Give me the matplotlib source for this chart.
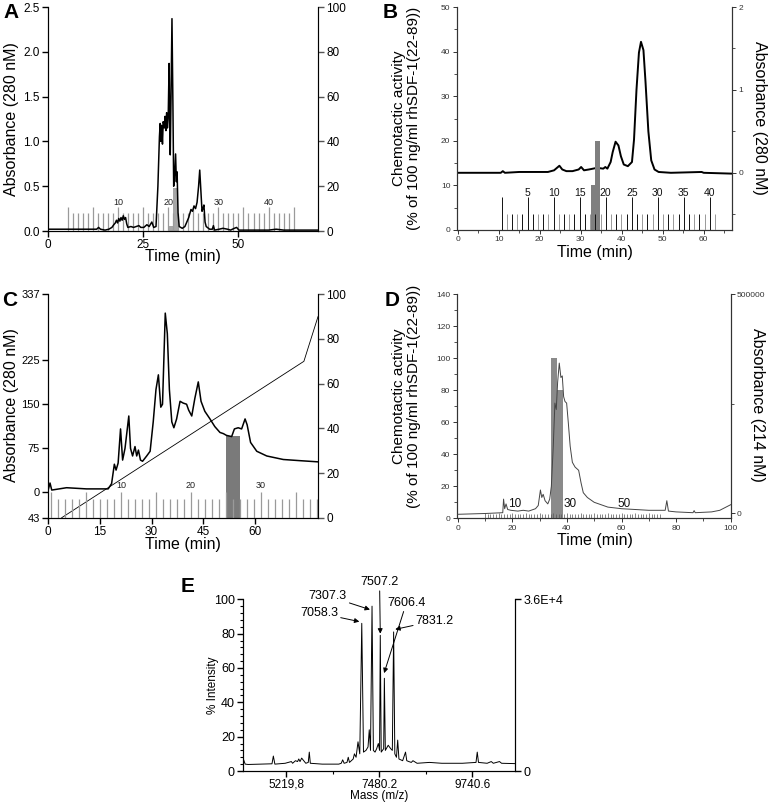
import numpy as np
import matplotlib
matplotlib.use('Agg')
import matplotlib.pyplot as plt
from matplotlib.ticker import MultipleLocator, FixedLocator

plt.rcParams['font.family'] = ['Liberation Sans', 'DejaVu Sans']

W, H = 768, 802

# ---------------- panel A data ----------------
a_time = [0, 12.8, 13.3, 13.8, 15, 16, 16.8, 17.3, 17.7, 18.0, 18.3, 18.6, 18.9, 19.2, 19.5, 19.8,
          20.1, 20.4, 20.7, 21.0, 21.8, 22.5, 23.2, 23.9, 24.4, 25.2, 26.0, 26.6, 27.3, 27.8, 28.4,
          28.9, 29.3, 29.5, 29.7, 29.9, 30.1, 30.3, 30.6, 30.8, 31.0, 31.2, 31.4, 31.6, 31.85, 32.0,
          32.15, 32.35, 32.6, 32.85, 33.05, 33.3, 33.55, 33.75, 33.95, 34.2, 34.5, 35.3, 36.0, 36.5,
          37.0, 37.6, 38.0, 38.4, 38.8, 39.2, 39.6, 39.9, 40.2, 40.5, 40.8, 41.0, 41.3, 41.6, 42.5,
          43.2, 43.5, 43.8, 45, 46, 47.2, 48, 49, 49.6, 50.2, 52, 58, 60, 62, 71]
a_abs = [0.02, 0.02, 0.04, 0.02, 0.01, 0.02, 0.04, 0.07, 0.09, 0.12, 0.09, 0.14, 0.11, 0.15, 0.12, 0.17,
         0.13, 0.15, 0.08, 0.04, 0.05, 0.04, 0.05, 0.06, 0.04, 0.04, 0.07, 0.05, 0.10, 0.04, 0.05,
         0.5, 1.05, 1.2, 1.0, 1.18, 0.97, 1.22, 1.15, 1.28, 1.12, 1.32, 1.15, 1.25, 1.87, 1.3,
         0.85, 1.5, 2.37, 1.4, 0.5, 0.62, 0.86, 0.55, 0.66, 0.2, 0.05, 0.03, 0.05, 0.1,
         0.15, 0.24, 0.22, 0.28, 0.25, 0.32, 0.5, 0.68, 0.45, 0.22, 0.26, 0.29, 0.1, 0.05, 0.02,
         0.02, 0.06, 0.01, 0.02, 0.03, 0.02, 0.01, 0.03, 0.04, 0.01, 0.01, 0.01, 0.02, 0.01, 0.01]
a_bar_start = [31.7, 32.8]
a_bar_width = [1.1, 1.5]
a_activity = [2.4, 19]
a_frac_start, a_frac_step, a_frac_n = 5.2, 1.32, 46
a_frac_labels = [10, 20, 30, 40]

# ---------------- panel B data ----------------
b_time = [0, 10.5, 11, 11.5, 15, 20, 22, 23.5, 24.8, 25.5, 26.5, 28, 29.5, 30.1, 30.8, 32, 33, 34,
          35.5, 36, 36.5, 37.3, 37.8, 38.5, 39.2, 39.8, 40.5, 41.5, 42.5, 43, 43.6, 44.2, 44.7,
          45.3, 45.8, 46.5, 47.2, 48, 49, 52, 59.5, 60, 66.9]
b_abs = [0, 0, 0.02, 0, 0.01, 0.01, 0.01, 0.03, 0.085, 0.04, 0.02, 0.02, 0.04, 0.07, 0.03, 0.04,
         0.05, 0.06, 0.05, 0.07, 0.05, 0.13, 0.25, 0.375, 0.33, 0.2, 0.1, 0.08, 0.13, 0.4, 1.0,
         1.45, 1.58, 1.48, 1.1, 0.5, 0.15, 0.04, 0.01, 0.0, 0.01, 0.0, -0.01]
b_bar_start = [32.4, 33.6]
b_bar_width = [1.2, 1.2]
b_activity = [10, 20]
b_frac_start, b_frac_step, b_frac_n = 10.7, 1.27, 42
b_frac_labels = [5, 10, 15, 20, 25, 30, 35, 40]

# ---------------- panel C data ----------------
c_time = [0, 0.5, 1, 5.3, 8.2, 11.1, 17.4, 18.4, 19.2, 19.7, 20.3, 21.0, 21.6, 22.3, 23.4, 23.9,
          24.5, 25.2, 25.7, 26.2, 26.8, 27.4, 28.6, 29.6, 30.5, 31.3, 32.0, 32.7, 33.2, 34.0, 34.6,
          35.2, 35.9, 36.5, 37.3, 38.3, 39.2, 40.2, 40.8, 41.7, 42.6, 43.6, 44.4, 45.5, 47.0, 48.4,
          49.9, 50.9, 51.8, 53.3, 54.1, 55.2, 56.2, 57.2, 57.8, 58.8, 60.6, 63.5, 68.3, 73.2, 78.4]
c_abs = [5, 16, 4, 8, 7, 6, 6, 15, 48, 38, 50, 108, 55, 75, 130, 75,
         62, 78, 62, 72, 55, 53, 62, 70, 120, 175, 200, 145, 150, 305, 270,
         175, 120, 110, 125, 155, 152, 150, 140, 130, 160, 188, 155, 138, 125, 112,
         102, 100, 97, 95, 108, 110, 108, 125, 115, 85, 70, 62, 56, 54, 52]
c_grad_time = [3.9, 74.3, 78.4]
c_grad_pct = [0, 70, 90]
c_bar_start = [51.6]
c_bar_width = [4.1]
c_activity = [36.5]
c_frac_start, c_frac_step, c_frac_n = 0.9, 2.03, 39
c_frac_labels = [10, 20, 30]

# ---------------- panel D data ----------------
d_time = [0, 10, 16.5, 16.8, 17.2, 17.7, 18.3, 19.5, 22, 24, 26, 28.5, 29.5, 30.3, 30.8, 31.3, 32,
          33, 33.7, 34.3, 35, 35.6, 36.1, 36.6, 37.2, 37.8, 38.3, 38.8, 39.3, 39.9, 40.5, 41.2, 42,
          43, 44.3, 45.2, 46, 47.5, 50, 55, 60, 70, 76, 76.6, 77.2, 80, 86.2, 86.6, 87, 93, 96, 100]
d_abs = [2.5, 3, 3.5, 12, 6, 9, 5.5, 5, 4.5, 5, 4.5, 6, 8, 17.7, 13, 15, 11,
         9, 12, 20, 45, 72, 68, 85, 97, 88, 89, 76, 73, 72, 60, 45, 35,
         32, 30, 22, 16, 13, 10, 7, 6, 5, 5, 11, 4.5, 4, 3.5, 4.8, 3.5, 4, 5, 8.5]
d_bar_start = [34.3, 36.5]
d_bar_width = [2.2, 2.0]
d_activity = [100, 80]
d_frac_start, d_frac_step, d_frac_n = 10.0, 1.0, 65
d_frac_labels = ['10', '30', '50']
d_frac_label_time = [18.6, 38.6, 58.6]

# ---------------- panel E data ----------------
e_mass = [4184, 4230, 4300, 4600, 4880, 4913, 4950, 5200, 5350, 5380, 5450, 5500, 5530, 5560, 5600,
          5700, 5760, 5785, 5810, 6100, 6500, 6560, 6595, 6630, 6700, 6730, 6760, 6850, 6880, 6920,
          6967, 7010, 7058.3, 7100, 7160, 7210, 7240, 7270, 7307.3, 7340, 7380, 7420, 7460, 7490,
          7507.2, 7530, 7560, 7590, 7606.4, 7630, 7700, 7760, 7800, 7831.2, 7860, 7900, 7930, 7960,
          8050, 8120, 8150, 8200, 8260, 8300, 8400, 8700, 9000, 9500, 9830, 9860, 9890, 10100, 10200,
          10250, 10400, 10450, 10776]
e_int = [7, 4, 3.8, 4, 4.2, 8.7, 4, 4.5, 5.5, 4.5, 6, 5.5, 7, 5.5, 7.5,
         4.5, 5, 11, 4.5, 4, 4, 4.5, 6.5, 4.5, 5, 8, 5, 7, 10, 8,
         17, 10, 86, 11, 12, 14, 24, 12, 96, 12, 11, 13, 16, 12,
         79, 11, 12, 13, 54, 12, 15, 13, 12, 81, 10, 8, 18, 7,
         6, 11, 6, 5.5, 5, 6, 4.5, 5, 4.5, 4.5, 5, 11, 5, 4.5, 5.5,
         4.5, 5.5, 4.5, 4.3]


def add_ax(fig, l, t, r, b):
    return fig.add_axes([l / W, 1 - b / H, (r - l) / W, (b - t) / H])


def px(x, y):
    return x / W, 1 - y / H


fig = plt.figure(figsize=(W / 100, H / 100), dpi=100)

# =============== A ===============
axA = add_ax(fig, 48, 7, 318, 231)
axA2 = axA.twinx()
axA2.bar(a_bar_start, a_activity, width=a_bar_width, align='edge', color='#a6a6a6', zorder=1)
axA2.set_ylim(0, 100)
axA2.set_yticks([0, 20, 40, 60, 80, 100])
axA.set_zorder(axA2.get_zorder() + 1)
axA.patch.set_visible(False)
for i in range(a_frac_n):
    t = a_frac_start + a_frac_step * i
    h = 0.264 if i % 5 == 0 else 0.197
    axA.vlines(t, 0, h, color='#9a9a9a', lw=0.9, zorder=1)
for n in a_frac_labels:
    axA.text(a_frac_start + a_frac_step * n, 0.32, str(n), fontsize=6.5, ha='center', va='center',
             color='#222')
axA.plot(a_time, a_abs, color='k', lw=1.1, zorder=3)
axA.set_xlim(0, 71)
axA.set_ylim(0, 2.5)
axA.set_xticks([0, 25, 50])
axA.set_yticks([0, 0.5, 1.0, 1.5, 2.0, 2.5])
axA.set_yticklabels(['0.0', '0.5', '1.0', '1.5', '2.0', '2.5'])
for a in (axA, axA2):
    a.spines['top'].set_visible(False)
    a.tick_params(labelsize=8.5, length=4, width=1, pad=2)
axA2.spines['right'].set_color('#555')
axA2.tick_params(colors='#555', labelcolor='k')
fig.text(*px(12, 119), 'Absorbance (280 nM)', rotation=90, fontsize=11.5, ha='center', va='center')
fig.text(*px(183, 256), 'Time (min)', fontsize=11.5, ha='center', va='center')
fig.text(*px(3, 12), 'A', fontsize=15, fontweight='bold', ha='left', va='center')

# =============== B ===============
axB = add_ax(fig, 456.7, 7, 732, 230)
axB2 = axB.twinx()
axB2.plot(b_time, b_abs, color='k', lw=1.4)
axB2.set_ylim(-0.69, 2.0)
axB2.set_yticks([0, 1, 2])
axB2.yaxis.set_minor_locator(FixedLocator([-0.5, 0.5, 1.5]))
axB.set_zorder(axB2.get_zorder() + 1)
axB.patch.set_visible(False)
axB.bar(b_bar_start, b_activity, width=b_bar_width, align='edge', color='#7f7f7f', zorder=2)
for i in range(b_frac_n):
    t = b_frac_start + b_frac_step * i
    h = 7.4 if i % 5 == 0 else 3.6
    c = '#111' if (i % 5 == 0 or i % 2 == 0) else '#999'
    axB.vlines(t, 0, h, color=c, lw=0.7, zorder=3)
for n in b_frac_labels:
    axB.text(b_frac_start + b_frac_step * n, 8.4, str(n), fontsize=7.5, ha='center', va='center',
             color='#111')
axB.set_xlim(-0.25, 66.9)
axB.set_ylim(0, 50)
axB.set_xticks(range(0, 61, 10))
axB.xaxis.set_minor_locator(MultipleLocator(5))
axB.set_yticks(range(0, 51, 10))
axB.yaxis.set_minor_locator(MultipleLocator(5))
for a in (axB, axB2):
    a.spines['top'].set_visible(False)
    for s in a.spines.values():
        s.set_color('#333')
        s.set_linewidth(0.8)
    a.tick_params(labelsize=6, length=3, width=0.7, colors='#333', pad=1.5)
    a.tick_params(which='minor', length=2, width=0.6, colors='#333')
fig.text(*px(399, 118), 'Chemotactic activity', rotation=90, fontsize=11, ha='center', va='center')
fig.text(*px(414, 118), '(% of 100 ng/ml rhSDF-1(22-89))', rotation=90, fontsize=11,
         ha='center', va='center')
fig.text(*px(759, 118), 'Absorbance (280 nM)', rotation=270, fontsize=11.5, ha='center', va='center')
fig.text(*px(595, 253), 'Time (min)', fontsize=11.5, ha='center', va='center')
fig.text(*px(383, 12), 'B', fontsize=15, fontweight='bold', ha='left', va='center')

# =============== C ===============
axC = add_ax(fig, 48.3, 294.3, 318, 517.7)
axC2 = axC.twinx()
axC2.plot(c_grad_time, c_grad_pct, color='k', lw=0.6)
axC2.bar(c_bar_start, c_activity, width=c_bar_width, align='edge', color='#7a7a7a')
axC2.set_ylim(0, 100)
axC2.set_yticks([0, 20, 40, 60, 80, 100])
axC.set_zorder(axC2.get_zorder() + 1)
axC.patch.set_visible(False)
for i in range(c_frac_n):
    t = c_frac_start + c_frac_step * i
    top = 0 if i % 5 == 0 else -10.7
    axC.vlines(t, -43, top, color='#9a9a9a', lw=0.9, zorder=1)
for n in c_frac_labels:
    axC.text(c_frac_start + c_frac_step * n, 11, str(n), fontsize=6.5, ha='center', va='center',
             color='#222')
axC.plot(c_time, c_abs, color='k', lw=1.1, zorder=3)
axC.set_xlim(0, 78.4)
axC.set_ylim(-43, 337)
axC.set_xticks([0, 15, 30, 45, 60])
axC.set_yticks([-43, 0, 75, 150, 225, 337])
axC.set_yticklabels(['43', '0', '75', '150', '225', '337'])
for a in (axC, axC2):
    a.spines['top'].set_visible(False)
    a.tick_params(labelsize=8.5, length=4, width=1, pad=2)
axC.tick_params(axis='y', labelsize=8)
axC2.spines['right'].set_color('#555')
axC2.tick_params(colors='#555', labelcolor='k')
fig.text(*px(12, 405), 'Absorbance (280 nM)', rotation=90, fontsize=11.5, ha='center', va='center')
fig.text(*px(183, 545), 'Time (min)', fontsize=11.5, ha='center', va='center')
fig.text(*px(2, 300), 'C', fontsize=15, fontweight='bold', ha='left', va='center')

# =============== D ===============
axD = add_ax(fig, 456.7, 294.3, 730.7, 518.3)
axD2 = axD.twinx()
axD2.set_ylim(-11400, 500000)
axD2.set_yticks([0, 500000])
axD2.set_yticklabels(['0', '500000'])
axD2.yaxis.set_minor_locator(FixedLocator([250000]))
axD.set_zorder(axD2.get_zorder() + 1)
axD.patch.set_visible(False)
axD.bar(d_bar_start, d_activity, width=d_bar_width, align='edge', color='#8a8a8a', zorder=1)
for i in range(d_frac_n):
    t = d_frac_start + d_frac_step * i
    h = 3.6 if i % 5 == 0 else 2.6
    axD.vlines(t, 0, h, color='#555', lw=0.5, zorder=2)
for lab, t in zip(d_frac_labels, d_frac_label_time):
    axD.text(t, 9.2, lab, fontsize=8.5, ha='left', va='center', color='#111')
axD.plot(d_time, d_abs, color='#444', lw=0.7, zorder=3)
axD.set_xlim(-0.37, 100)
axD.set_ylim(0, 140)
axD.set_xticks(range(0, 101, 20))
axD.xaxis.set_minor_locator(MultipleLocator(10))
axD.set_yticks(range(0, 141, 20))
axD.yaxis.set_minor_locator(MultipleLocator(10))
for a in (axD, axD2):
    a.spines['top'].set_visible(False)
    for s in a.spines.values():
        s.set_color('#333')
        s.set_linewidth(0.8)
    a.tick_params(labelsize=6, length=3, width=0.7, colors='#333', pad=1.5)
    a.tick_params(which='minor', length=2, width=0.6, colors='#333')
fig.text(*px(399, 396), 'Chemotactic activity', rotation=90, fontsize=11, ha='center', va='center')
fig.text(*px(414, 396), '(% of 100 ng/ml rhSDF-1(22-89))', rotation=90, fontsize=11,
         ha='center', va='center')
fig.text(*px(757, 405), 'Absorbance (214 nM)', rotation=270, fontsize=11.5, ha='center', va='center')
fig.text(*px(595, 541), 'Time (min)', fontsize=11.5, ha='center', va='center')
fig.text(*px(385, 300), 'D', fontsize=15, fontweight='bold', ha='left', va='center')

# =============== E ===============
axE = add_ax(fig, 243.3, 599.3, 515, 771)
axE2 = axE.twinx()
axE2.set_ylim(0, 3.6e4)
axE2.set_yticks([0, 3.6e4])
axE2.set_yticklabels(['0', '3.6E+4'])
axE.plot(e_mass, e_int, color='k', lw=0.7)
axE.set_xlim(4184, 10776)
axE.set_ylim(0, 100)
axE.set_xticks([5219.8, 7480.2, 9740.6])
axE.set_xticklabels(['5219,8', '7480.2', '9740.6'])
axE.xaxis.set_minor_locator(FixedLocator([6350.0, 8610.4]))
axE.set_yticks(range(0, 101, 20))
axE.yaxis.set_minor_locator(MultipleLocator(4))
for a in (axE, axE2):
    a.spines['top'].set_visible(False)
    a.tick_params(labelsize=9, length=4, width=1, pad=2)
    a.tick_params(which='minor', length=2.5, width=0.8)
axE.tick_params(axis='x', labelsize=8.5, pad=1.5)
fig.text(*px(379, 796), 'Mass (m/z)', fontsize=8.5, ha='center', va='center')
fig.text(*px(213, 685), '% Intensity', rotation=90, fontsize=8.5, ha='center', va='center')
arrow = dict(arrowstyle='-|>', lw=0.7, color='k', mutation_scale=7, shrinkA=0, shrinkB=0)
ann = [('7058.3', (7000, 87), (6480, 92), 'right'),
       ('7307.3', (7257, 94), (6691, 102), 'right'),
       ('7507.2', (7507.2, 80), (7490, 110), 'center'),
       ('7606.4', (7600, 57), (7676, 98), 'left'),
       ('7831.2', (7870, 82.5), (8370, 87.5), 'left')]
for lab, xy, xyt, ha in ann:
    axE.annotate(lab, xy=xy, xytext=xyt, fontsize=9, ha=ha, va='center', arrowprops=arrow,
                 annotation_clip=False)
fig.text(*px(181, 587), 'E', fontsize=15, fontweight='bold', ha='left', va='center')

fig.savefig('out.png', dpi=100)
